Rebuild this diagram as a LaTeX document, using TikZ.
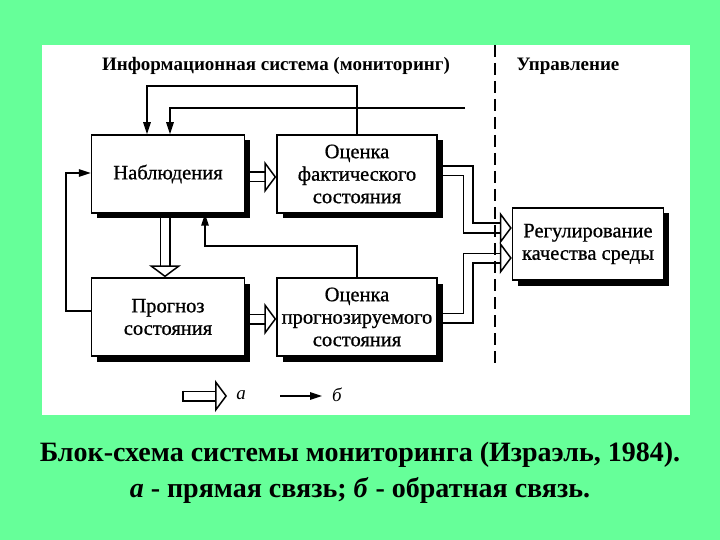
\documentclass[tikz,border=0pt]{standalone}
\usepackage{fontspec}
\setmainfont{Liberation Serif}
\newfontfamily\scanfont{Liberation Serif}[FakeBold=0.8]
\usetikzlibrary{arrows.meta,shadows,backgrounds}
\definecolor{bggreen}{RGB}{102,255,153}

\begin{document}
\begin{tikzpicture}[x=1pt,y=-1pt,
  box/.style={draw,line width=1.5pt,fill=white,align=center,minimum width=153pt,minimum height=78pt,inner sep=1pt,
    font=\scanfont\fontsize{20.5}{22.5}\selectfont,drop shadow={shadow xshift=5.5pt,shadow yshift=-5.5pt,fill=black,opacity=1}},
  fb/.style={line width=1.6pt,-{Triangle[length=12pt,width=7.5pt]}},
  hollow/.style={line width=1.5pt,double=white,double distance=8pt,-{Triangle[fill=white,length=12pt,width=32pt,line width=1.5pt]}},
  head/.style={font=\bfseries\fontsize{19}{22}\selectfont},
  captext/.style={font=\bfseries\fontsize{28}{32}\selectfont}]
\useasboundingbox (0,0) rectangle (720,540);
\begin{scope}[on background layer]
\fill[bggreen] (0,0) rectangle (720,540);
\fill[white] (42,45) rectangle (690,415);
\end{scope}

\node[head] (T1) at (276,66) {Информационная система (мониторинг)};
\node[head] (T2) at (568,66) {Управление};
\draw[line width=1.7pt,dash pattern=on 12pt off 6pt] (495,45) -- (495,365);

\node[box] (Nab) at (168,174) {Наблюдения};
\node[box,minimum width=160pt] (OcF) at (357,174) {Оценка\\фактического\\состояния};
\node[box] (Prog) at (168,317) {Прогноз\\состояния};
\node[box,minimum width=160pt] (OcP) at (357,317) {Оценка\\прогнозируемого\\состояния};
\node[box,minimum width=151pt,minimum height=72pt] (Reg) at (588,244) {Регулирование\\качества среды};

\coordinate (t1) at (147,86);
\coordinate (u1) at (465,108);
\coordinate (u2) at (170,108);
\coordinate (m1) at (205,246);
\coordinate (l1) at (66,173);
\coordinate (c1) at (468,200);
\coordinate (c2) at (468,290);

\begin{scope}[on background layer]
\draw[fb] (OcF.north) |- (t1) -- (t1 |- Nab.north);
\draw[fb] (u1) -- (u2) -- (u2 |- Nab.north);
\draw[fb] (OcP.north) |- (m1) -- (m1 |- Nab.south);
\draw[fb] ([yshift=6pt]Prog.west) -| (l1) -- (l1 -| Nab.west);
\draw[hollow] ([yshift=-3pt]Nab.east) -- ([yshift=-3pt]OcF.west);
\draw[hollow] ([xshift=-3pt]Nab.south) -- ([xshift=-3pt]Prog.north);
\draw[hollow] ([yshift=-2pt]Prog.east) -- ([yshift=-2pt]OcP.west);
\draw[hollow] ([yshift=3pt]OcF.east) -| (c1) |- ([yshift=16pt]Reg.west);
\draw[hollow] ([yshift=-1pt]OcP.east) -| (c2) |- ([yshift=-14pt]Reg.west);
\end{scope}

\coordinate (La) at (183,396);
\coordinate (Lb) at (227,396);
\coordinate (Lc) at (280,396);
\coordinate (Ld) at (322,396);
\draw[hollow] (La) -- (Lb);
\draw[line width=1.5pt] ([yshift=5.5pt]La) -- ([yshift=-5.5pt]La);
\node[font=\itshape\fontsize{19}{22}\selectfont] (a1) at (241,395) {а};
\draw[fb] (Lc) -- (Ld);
\node[font=\itshape\fontsize{19}{22}\selectfont] (b1) at (337,395) {б};

\node[captext] (C1) at (360,455) {Блок-схема системы мониторинга (Израэль, 1984).};
\node[captext] (C2) at (360,490) {\textit{а} - прямая связь; \textit{б} - обратная связь.};
\end{tikzpicture}
\end{document}
